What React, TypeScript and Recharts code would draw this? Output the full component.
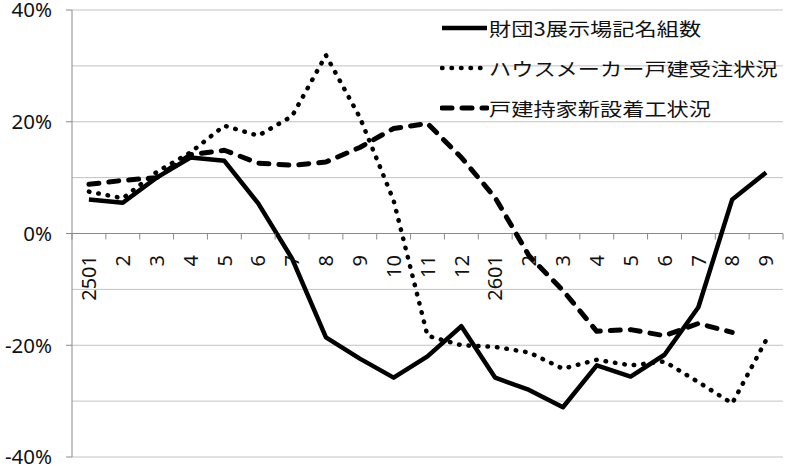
import React from 'react';
import { LineChart, Line, XAxis, YAxis, CartesianGrid, ReferenceLine, Legend } from 'recharts';

// month labels (2501 = 2025/01, 2601 = 2026/01)
const months = ['2501', '2', '3', '4', '5', '6', '7', '8', '9', '10', '11', '12', '2601', '2', '3', '4', '5', '6', '7', '8', '9'];

// year-on-year change, %
const exhibitionVisits = [6.1, 5.5, 10, 13.6, 13, 5.4, -4.5, -18.6, -22.4, -25.8, -22, -16.6, -25.8, -28, -31.1, -23.6, -25.6, -21.7, -13.2, 6.1, 10.9];
const houseMakerOrders = [7.5, 6.3, 11, 14.5, 19.3, 17.5, 21, 31.9, 20.8, 5.9, -18.3, -20, -20.3, -21.3, -24.2, -22.6, -23.6, -22.9, -26.6, -30.4, -19.1];
const ownerHousingStarts = [8.8, 9.5, 10, 14.1, 14.9, 12.6, 12.2, 12.8, 15.4, 18.8, 19.7, 13.6, 6.4, -4, -10.2, -17.5, -17.2, -18.3, -16.1, -17.7, null];

const seriesNames = ['財団3展示場記名組数', 'ハウスメーカー戸建受注状況', '戸建持家新設着工状況'];
const yTicks = [-40, -30, -20, -10, 0, 10, 20, 30, 40];

const data = months.map((m, i) => ({
  idx: i,
  month: m,
  visits: exhibitionVisits[i],
  orders: houseMakerOrders[i],
  starts: ownerHousingStarts[i],
}));

const W = 800;
const H = 471;
const MARGIN = { top: 10, right: 17, bottom: 13, left: 0 };
const Y_W = 72;
const X_H = 1;
const PLOT_W = W - MARGIN.right - MARGIN.left - Y_W;
const PLOT_H = H - MARGIN.top - MARGIN.bottom - X_H;
const ZERO_Y = MARGIN.top + PLOT_H / 2;
const BAND = PLOT_W / months.length;

const AXIS = '#8a8a8a';
const GRID = '#c2c2c2';
const NUM_FONT = '"Noto Sans", "DejaVu Sans", sans-serif';
const JP_FONT = '"Noto Sans CJK JP", "Noto Sans", sans-serif';

const styles = [
  { key: 'visits', width: 4.5, dash: undefined, cap: 'butt' },
  { key: 'orders', width: 4.5, dash: '0.5 9', cap: 'round' },
  { key: 'starts', width: 5, dash: '10 10', cap: 'round' },
];

const MonthTick = (props: any) => {
  const { x, index } = props;
  const half = BAND / 2;
  return (
    <g>
      <line x1={x - half} x2={x - half} y1={ZERO_Y} y2={ZERO_Y + 6} stroke={AXIS} />
      {index === months.length - 1 && (
        <line x1={x + half} x2={x + half} y1={ZERO_Y} y2={ZERO_Y + 6} stroke={AXIS} />
      )}
      <text
        transform={`translate(${x}, ${ZERO_Y + 21.5}) rotate(-90)`}
        textAnchor="end"
        dy="0.36em"
        fontSize={20}
        fontFamily={NUM_FONT}
        fill="#111"
      >
        {months[index]}
      </text>
    </g>
  );
};

const PercentTick = (props: any) => {
  const { y, payload } = props;
  if (payload.value % 20 !== 0) return null;
  const axisX = MARGIN.left + Y_W;
  return (
    <g>
      <line x1={axisX - 6} x2={axisX} y1={y} y2={y} stroke={AXIS} />
      <text x={axisX - 20} y={y} dy="0.36em" textAnchor="end" fontSize={20.5} fontFamily={NUM_FONT} fill="#111">
        {payload.value}%
      </text>
    </g>
  );
};

const LegendBox = () => (
  <div>
    {seriesNames.map((name, i) => (
      <div key={name} style={{ height: 40, display: 'flex', alignItems: 'center', whiteSpace: 'nowrap' }}>
        <svg width={49} height={10} style={{ flex: 'none' }}>
          <line
            x1={2}
            x2={47}
            y1={5}
            y2={5}
            stroke="#000"
            strokeWidth={styles[i].width}
            strokeDasharray={styles[i].dash}
            strokeLinecap={styles[i].cap as any}
          />
        </svg>
        <span
          style={{
            display: 'inline-block',
            fontFamily: JP_FONT,
            fontSize: 18.5,
            color: '#111',
            transform: 'scaleX(1.2)',
            transformOrigin: 'left center',
          }}
        >
          {name}
        </span>
      </div>
    ))}
  </div>
);

export default function App() {
  return (
    <div style={{ position: 'absolute', left: 0, top: 0, background: '#fff' }}>
      <LineChart width={W} height={H} data={data} margin={MARGIN}>
        <CartesianGrid vertical={false} stroke={GRID} />
        <XAxis
          dataKey="idx"
          type="category"
          interval={0}
          height={X_H}
          padding={{ left: BAND / 2, right: BAND / 2 }}
          axisLine={false}
          tickLine={false}
          tick={<MonthTick />}
        />
        <YAxis
          width={Y_W}
          domain={[-40, 40]}
          ticks={yTicks}
          interval={0}
          axisLine={{ stroke: AXIS }}
          tickLine={false}
          tick={<PercentTick />}
        />
        <ReferenceLine y={0} stroke={AXIS} strokeWidth={1.2} />
        <Legend
          layout="vertical"
          align="center"
          verticalAlign="middle"
          wrapperStyle={{ top: 8, left: 440, width: 'auto' }}
          content={<LegendBox />}
        />
        {styles.map((s, i) => (
          <Line
            key={s.key}
            name={seriesNames[i]}
            dataKey={s.key}
            type="linear"
            stroke="#000"
            strokeWidth={s.width}
            strokeDasharray={s.dash}
            strokeLinecap={s.cap as any}
            strokeLinejoin="round"
            dot={false}
            activeDot={false}
            isAnimationActive={false}
          />
        ))}
      </LineChart>
    </div>
  );
}
